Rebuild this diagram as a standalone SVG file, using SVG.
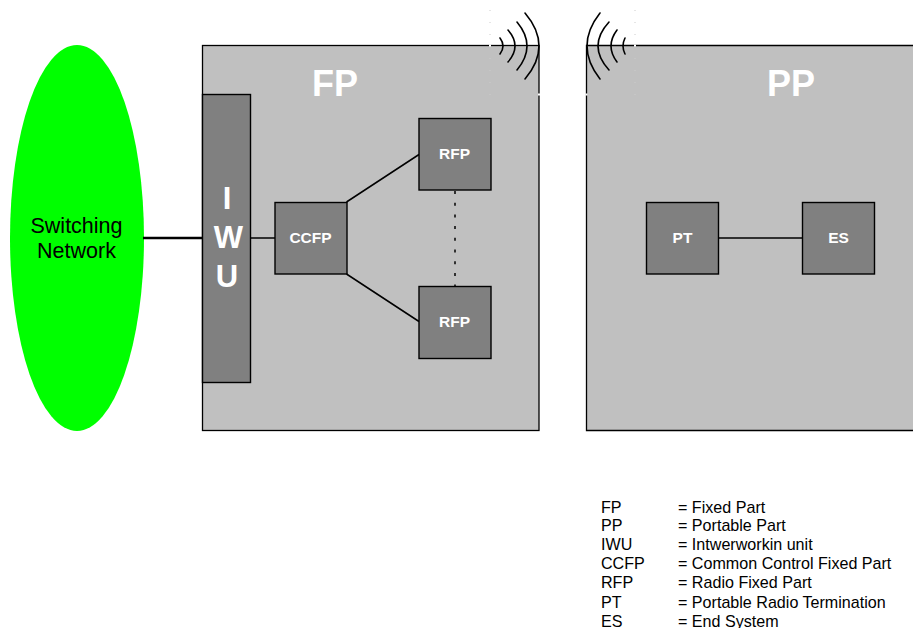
<svg xmlns="http://www.w3.org/2000/svg" width="913" height="628" viewBox="0 0 913 628">
<style>
text{font-family:"Liberation Sans",Arial,sans-serif}
.part{fill:#c0c0c0;stroke:#000;stroke-width:1.3}
.box{fill:#808080;stroke:#000;stroke-width:1.4}
.w{fill:#fff;font-weight:bold;text-anchor:middle}
.s{font-size:15.500px}
.big{font-size:36px}
.iwu{font-size:31px}
.c{fill:none;stroke:#000;stroke-width:1.5}
.arc{fill:none;stroke:#000;stroke-width:1.6;stroke-linecap:round}
.leg{font-size:16.100px;fill:#000}
.sn{font-size:21.500px;text-anchor:middle}
.dot{fill:none;stroke:#ccc;stroke-width:1;stroke-dasharray:1 11}
.gap{stroke:#fff;stroke-width:2;fill:none}
</style>
<g id="fp"><rect class="part" x="202.500" y="45.500" width="336.500" height="385"/><text class="w big" x="335" y="96">FP</text></g>
<g id="pp"><path class="part" d="M913 45.500H586.500V430.500H913"/><text class="w big" x="791" y="96">PP</text></g>
<g id="switching-network"><ellipse cx="77" cy="238" rx="67" ry="193" fill="#00ff00"/><text class="sn" x="76.500" y="233">Switching</text><text class="sn" x="76.500" y="258">Network</text></g>
<g id="connectors">
<path d="M143 238H202" fill="none" stroke="#000" stroke-width="2.500"/>
<path class="c" d="M251 238H275"/>
<path class="c" d="M346.500 202L419 154.500M346.500 274L419 321.500M719 238H803"/>
<path class="c" d="M455 191V286" stroke-dasharray="3 8.700"/>
</g>
<g id="iwu"><rect class="box" x="202.500" y="94.500" width="48" height="288"/><text class="w iwu" x="227" y="209">I</text><text class="w iwu" x="228.500" y="248">W</text><text class="w iwu" x="227" y="287">U</text></g>
<g id="ccfp"><rect class="box" x="275" y="202.500" width="72" height="71.500"/><text class="w s" x="310.500" y="243">CCFP</text></g>
<g id="rfp1"><rect class="box" x="419" y="118.500" width="72" height="71.500"/><text class="w s" x="454.500" y="159">RFP</text></g>
<g id="rfp2"><rect class="box" x="419" y="286.500" width="72" height="72"/><text class="w s" x="454.500" y="327">RFP</text></g>
<g id="pt"><rect class="box" x="646.500" y="202.500" width="72" height="71.500"/><text class="w s" x="682.500" y="243">PT</text></g>
<g id="es"><rect class="box" x="802.500" y="202.500" width="72" height="71.500"/><text class="w s" x="838.500" y="243">ES</text></g>
<g id="antenna-left">
<path class="dot" d="M490 10V95"/>
<path class="gap" d="M489 45.500H491M538 94.500H540"/>
<path class="arc" d="M500 38Q506 46 500 54M508 30Q522 46 508 62M517 22Q537 46 517 70M525 13Q553 46 525 79"/>
</g>
<g id="antenna-right">
<path class="dot" d="M635 10V95"/>
<path class="gap" d="M634 45.500H636M585.500 94.500H587.500"/>
<path class="arc" d="M625 38Q621 46 625 54M617 30Q605 46 617 62M609 22Q587 46 609 70M600 13Q574 46 600 79"/>
</g>
<g id="legend">
<text class="leg" x="601" y="512.500">FP</text><text class="leg" x="678" y="512.500">= Fixed Part</text>
<text class="leg" x="601" y="530.500">PP</text><text class="leg" x="678" y="530.500">= Portable Part</text>
<text class="leg" x="601" y="549.500">IWU</text><text class="leg" x="678" y="549.500">= Intwerworkin unit</text>
<text class="leg" x="601" y="568.500">CCFP</text><text class="leg" x="678" y="568.500">= Common Control Fixed Part</text>
<text class="leg" x="601" y="587.500">RFP</text><text class="leg" x="678" y="587.500">= Radio Fixed Part</text>
<text class="leg" x="601" y="607.500">PT</text><text class="leg" x="678" y="607.500">= Portable Radio Termination</text>
<text class="leg" x="601" y="626.500">ES</text><text class="leg" x="678" y="626.500">= End System</text>
</g>
</svg>
